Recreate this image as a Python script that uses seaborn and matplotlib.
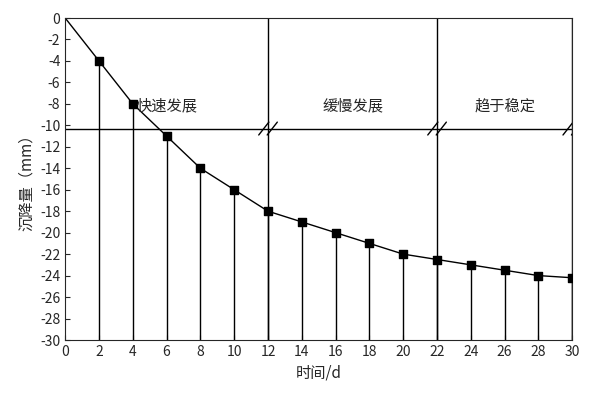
import seaborn as sns
import numpy as np
import pandas as pd
import matplotlib.pyplot as plt

days = [0, 2, 4, 6, 8, 10, 12, 14, 16, 18, 20, 22, 24, 26, 28, 30]
settle = [0, -4, -8, -11, -14, -16, -18, -19, -20, -21, -22, -22.5, -23, -23.5, -24, -24.2]
stages = ["快速发展", "缓慢发展", "趋于稳定"]
stage_x = [6, 17, 26]
bounds = [12, 22, 30]

sns.set_style("ticks")
plt.rcParams['font.family'] = ['Noto Sans CJK SC', 'DejaVu Sans']
plt.rcParams['axes.unicode_minus'] = False

fig = plt.figure(figsize=(5.98, 4.0), dpi=100)
ax = fig.add_axes([0.109, 0.15, 0.848, 0.805])
df = pd.DataFrame({'t': days, 's': settle})
sns.lineplot(data=df, x='t', y='s', color='black', lw=1, ax=ax)
ax.scatter(days[1:], settle[1:], marker='s', s=30, color='black', zorder=3)
ax.vlines(days[1:], -30, settle[1:], color='black', lw=1)
ax.vlines(bounds, -30, 0, color='black', lw=1)
hy = -10.3
ax.hlines(hy, 0, 30, color='black', lw=1)
for b in bounds:
    for dx in (-0.25, 0.25):
        ax.plot([b + dx - 0.3, b + dx + 0.3], [hy - 0.6, hy + 0.6], color='black', lw=1)
for lab, x in zip(stages, stage_x):
    ax.text(x, -8.2, lab, ha='center', va='center', fontsize=11)

ax.set_xlim(0, 30)
ax.set_ylim(-30, 0)
ax.set_xticks(range(0, 31, 2))
ax.set_yticks(range(-30, 1, 2))
ax.set_yticklabels([str(v) for v in range(-30, 1, 2)])
ax.tick_params(direction='in', labelsize=10)
ax.set_xlabel("时间/d", fontsize=11)
ax.set_ylabel("沉降量（mm）", fontsize=11)
fig.savefig("out.png", dpi=100)
